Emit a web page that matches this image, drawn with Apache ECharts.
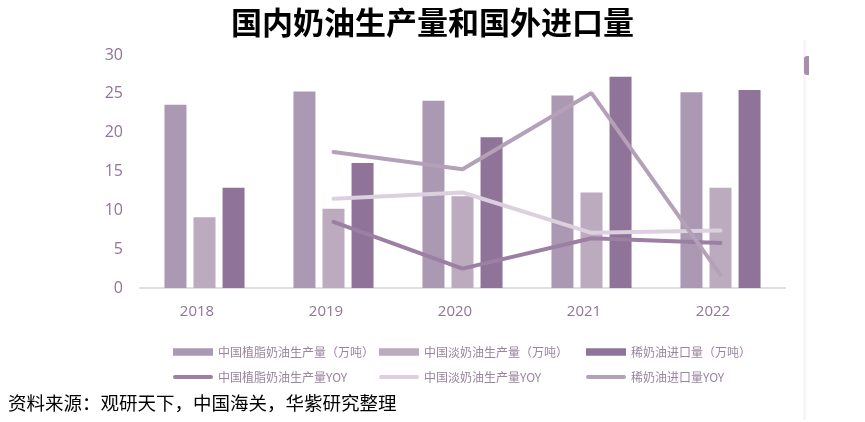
<!DOCTYPE html>
<html>
<head>
<meta charset="utf-8">
<script src="https://cdn.jsdelivr.net/npm/echarts@6/dist/echarts.min.js"></script>
<style>
html,body{margin:0;padding:0;background:#fff;}
#c{width:865px;height:422px;}
</style>
</head>
<body>
<div id="c"></div>
<script>
const years = ['2018', '2019', '2020', '2021', '2022'];
const vegCreamOutput = [23.6, 25.3, 24.1, 24.8, 25.2];
const lightCreamOutput = [9.1, 10.2, 11.8, 12.3, 12.9];
const creamImport = [12.9, 16.1, 19.4, 27.2, 25.5];
const vegCreamYoY = [null, 8.5, 2.5, 6.4, 5.8];
const lightCreamYoY = [null, 11.5, 12.3, 7.1, 7.4];
const creamImportYoY = [null, 17.5, 15.3, 25.1, 1.7];
const yTicks = [0, 5, 10, 15, 20, 25, 30];

const names = ['中国植脂奶油生产量（万吨）', '中国淡奶油生产量（万吨）', '稀奶油进口量（万吨）',
  '中国植脂奶油生产量YOY', '中国淡奶油生产量YOY', '稀奶油进口量YOY'];
const barColors = ['#ab98b3', '#bcaabf', '#8f7398'];
const lineColors = ['#9c80a3', '#dcd0de', '#b4a1b9'];

const barIcon = 'path://M0,0H38V7H0Z';
const lineIcon = 'path://M2,0H40A2,2,0,0,1,40,4H2A2,2,0,0,1,2,0Z';
const legendText = {color: '#9a84a0', fontSize: 12, fontFamily: 'Noto Sans CJK SC', lineHeight: 14};
function mkLegend(left, i) {
  return {
    orient: 'vertical', left: left, top: 340, itemWidth: 40, itemHeight: 8, itemGap: 11,
    textStyle: legendText,
    data: [{name: names[i], icon: barIcon}, {name: names[i + 3], icon: lineIcon}]
  };
}

const chart = echarts.init(document.getElementById('c'));
chart.setOption({
  backgroundColor: '#ffffff',
  animation: false,
  title: {
    text: '国内奶油生产量和国外进口量', left: 'center', top: 2,
    textStyle: {color: '#000', fontSize: 31, fontWeight: 'bold', fontFamily: 'Noto Sans CJK SC'}
  },
  legend: [mkLegend(168, 0), mkLegend(374, 1), mkLegend(581, 2)],
  grid: {left: 140, right: 80, top: 55, bottom: 134},
  xAxis: {
    type: 'category', data: years,
    axisTick: {show: false},
    axisLine: {lineStyle: {color: '#e3dbe6', width: 2}},
    axisLabel: {color: '#8f7597', fontSize: 15, margin: 16, fontFamily: 'Open Sans', padding: [0, 15, 0, 0]}
  },
  yAxis: {
    type: 'value', min: yTicks[0], max: yTicks[yTicks.length - 1], interval: 5,
    splitLine: {show: false}, axisLine: {show: false}, axisTick: {show: false},
    axisLabel: {color: '#8f7597', fontSize: 16, margin: 17, fontFamily: 'Open Sans'}
  },
  series: [
    {name: names[0], type: 'bar', data: vegCreamOutput, barWidth: 22, barGap: '32%', itemStyle: {color: barColors[0]}},
    {name: names[1], type: 'bar', data: lightCreamOutput, barWidth: 22, barGap: '32%', itemStyle: {color: barColors[1]}},
    {name: names[2], type: 'bar', data: creamImport, barWidth: 22, barGap: '32%', itemStyle: {color: barColors[2]}},
    {name: names[3], type: 'line', data: vegCreamYoY, symbol: 'none', lineStyle: {width: 4, color: lineColors[0], cap: 'round'}, itemStyle: {color: lineColors[0]}},
    {name: names[4], type: 'line', data: lightCreamYoY, symbol: 'none', lineStyle: {width: 4, color: lineColors[1], cap: 'round'}, itemStyle: {color: lineColors[1]}},
    {name: names[5], type: 'line', data: creamImportYoY, symbol: 'none', lineStyle: {width: 4, color: lineColors[2], cap: 'round'}, itemStyle: {color: lineColors[2]}}
  ],
  graphic: [
    {type: 'rect', left: 803, top: 40, shape: {width: 3, height: 380}, style: {fill: '#f7f5f8'}, silent: true},
    {type: 'rect', left: 804, top: 56, shape: {width: 5, height: 19, r: [3, 0, 0, 3]}, style: {fill: '#a58fac'}, silent: true},
    {type: 'text', left: 8, top: 394, style: {text: '资料来源：观研天下，中国海关，华紫研究整理', fill: '#000', fontSize: 18.5, fontFamily: 'Noto Sans CJK SC'}}
  ]
});
</script>
</body>
</html>
